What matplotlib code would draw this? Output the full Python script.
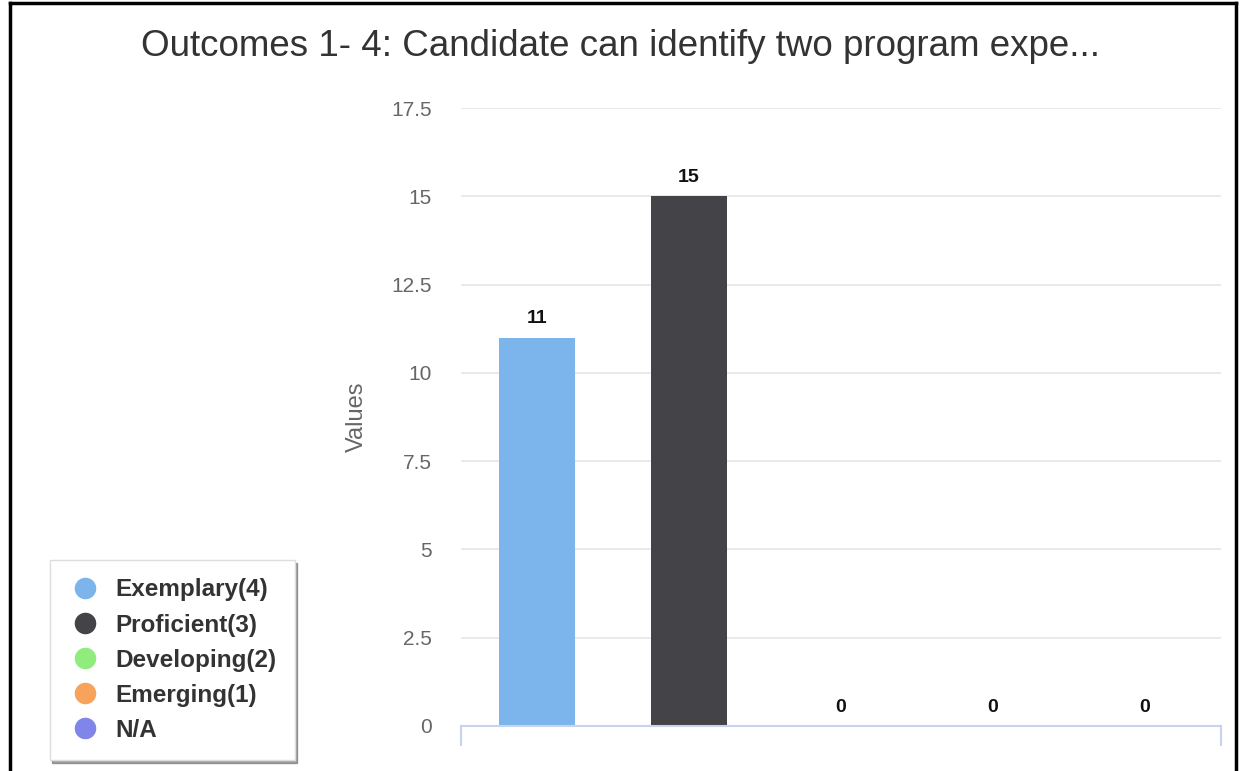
import numpy as np
import matplotlib
matplotlib.use('Agg')
from matplotlib import pyplot as plt
from matplotlib.lines import Line2D

plt.rcParams['font.family'] = ['Liberation Sans', 'DejaVu Sans']

# data
categories = ['Exemplary(4)', 'Proficient(3)', 'Developing(2)', 'Emerging(1)', 'N/A']
values = [11, 15, 0, 0, 0]
colors = ['#7cb5ec', '#434348', '#90ed7d', '#f7a35c', '#8085e9']
yticks = [0, 2.5, 5, 7.5, 10, 12.5, 15, 17.5]
title = 'Outcomes 1- 4: Candidate can identify two program expe...'

fig = plt.figure(figsize=(12.41, 7.71), dpi=100)
ax = fig.add_axes([0.3715, 0.0584, 0.6124, 0.8015])

x = np.arange(len(categories))
bars = ax.bar(x, values, width=0.5, color=colors, zorder=3)

for xi, v in zip(x, values):
    ax.annotate(str(v), (xi, v), xytext=(0, 7.5), textcoords='offset points',
                ha='center', va='bottom', fontsize=14, fontweight='bold', color='#111111')

ax.set_xlim(-0.5, len(categories) - 0.5)
ax.set_ylim(0, 17.5)
ax.set_yticks(yticks)
ax.set_yticklabels(['0', '2.5', '5', '7.5', '10', '12.5', '15', '17.5'])
ax.tick_params(axis='y', length=0, pad=21, labelsize=15, labelcolor='#666666')
ax.set_xticks([])
ax.grid(axis='y', color='#e6e6e6', linewidth=1.2, zorder=0)

for s in ['top', 'right', 'left']:
    ax.spines[s].set_visible(False)
ax.spines['bottom'].set_color('#c6d4ef')
ax.spines['bottom'].set_linewidth(1.5)
ax.spines['bottom'].set_zorder(4)
# end ticks on x axis
for xe in [0, 1]:
    ax.plot([xe, xe], [0, -0.03], transform=ax.transAxes, color='#c6d4ef',
            linewidth=1.5, clip_on=False)

ax.set_ylabel('Values', fontsize=17, color='#666666', labelpad=17)

fig.text(0.5, 0.940, title, ha='center', va='center', fontsize=26.5, color='#333333')

# legend
handles = [Line2D([], [], marker='o', linestyle='none', markersize=14.5,
                  markerfacecolor=c, markeredgecolor=c) for c in colors]
leg = fig.legend(handles, categories, loc='lower left', bbox_to_anchor=(0.04, 0.014),
                 frameon=True, fancybox=False, shadow=True,
                 prop={'weight': 'bold', 'size': 17.5}, labelspacing=0.5,
                 handletextpad=0.55, borderpad=0.75, handlelength=1.4, borderaxespad=0)
leg.get_frame().set_edgecolor('#dddddd')
for t in leg.get_texts():
    t.set_color('#333333')

# outer frame
fig.add_artist(Line2D([0.008, 0.008], [0.0, 0.996], color='black', linewidth=2.5))
fig.add_artist(Line2D([0.008, 0.996], [0.996, 0.996], color='black', linewidth=2.5))
fig.add_artist(Line2D([0.996, 0.996], [0.0, 0.996], color='black', linewidth=2.5))

fig.savefig('out.png', dpi=100)
